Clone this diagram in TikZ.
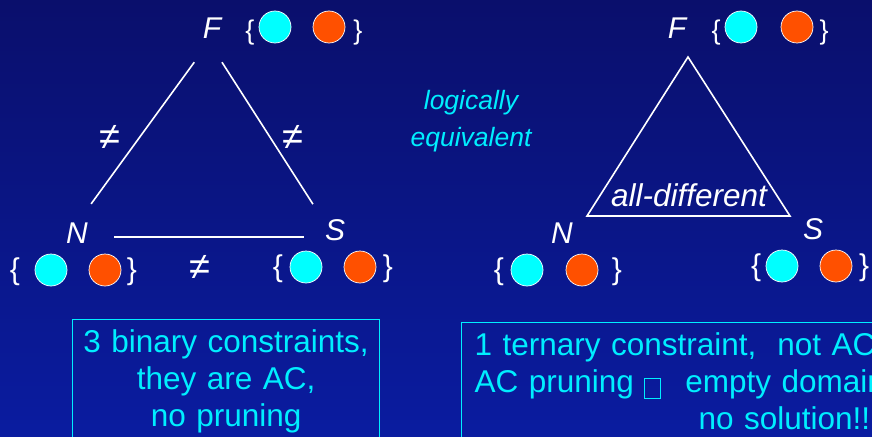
\documentclass[tikz,border=0pt]{standalone}
\usepackage{fontspec}
\setmainfont{Liberation Sans}
\usetikzlibrary{positioning}
\definecolor{navyTop}{HTML}{0A0F6C}
\definecolor{navyBot}{HTML}{0A1CA0}
\definecolor{aqua}{HTML}{00EEFF}
\definecolor{ballC}{HTML}{00FFFF}
\definecolor{ballO}{HTML}{FF5000}

\begin{document}
\begin{tikzpicture}[x=1pt, y=-1pt,
  var/.style={font=\fontsize{30}{36}\selectfont\itshape, text=white, anchor=base, inner sep=0pt},
  brace/.style={font=\fontsize{27}{30}\selectfont, text=white, anchor=base, inner sep=0pt},
  bigbrace/.style={brace, font=\fontsize{30}{36}\selectfont},
  cball/.style={circle, fill=ballC, draw=white, line width=0.7pt, minimum size=32pt, inner sep=0pt},
  oball/.style={cball, fill=ballO},
  neq/.style={font=\fontsize{38}{40}\selectfont, text=white, inner sep=0pt},
  link/.style={draw=white, line width=1.6pt},
  note/.style={draw=aqua, line width=1.2pt, text=aqua, anchor=north west,
           font=\fontsize{31.5}{37}\selectfont, inner xsep=5pt, inner ysep=10pt},
  lab/.style={font=\fontsize{26.5}{37}\selectfont\itshape, text=aqua, align=center, anchor=north, inner sep=0pt}
]
  \useasboundingbox (0,0) rectangle (872,436);
  \shade[top color=navyTop, bottom color=navyBot] (0,0) rectangle (872,436);
  \clip (0,0) rectangle (872,436);

  % three binary constraints
  \node[var] (F1) at (212,39) {F};
  \node[var] (N1) at (77,243) {N};
  \node[var] (S1) at (335,240) {S};

  \coordinate (tF) at (209,42);
  \coordinate (tN) at (67,237);
  \coordinate (tS) at (334,237);
  \draw[link, shorten <=25pt, shorten >=41pt] (tF) -- (tN);
  \draw[link, shorten <=24pt, shorten >=39pt] (tF) -- (tS);
  \draw[link, shorten <=47pt, shorten >=30pt] (tN) -- (tS);

  \node[neq] (ne1) at (110,137) {≠};
  \node[neq] (ne2) at (293,137) {≠};
  \node[neq] (ne3) at (200,267) {≠};

  \node[brace] (F1l) at (250,40) {\{};
  \node[cball] (F1c) at (275,27) {};
  \node[oball] (F1o) at (329,27) {};
  \node[brace] (F1r) at (358,40) {\}};

  \node[bigbrace] (N1l) at (15,279) {\{};
  \node[cball] (N1c) at (51,270) {};
  \node[oball] (N1o) at (105,270) {};
  \node[bigbrace] (N1r) at (132,279) {\}};

  \node[bigbrace] (S1l) at (278,276) {\{};
  \node[cball] (S1c) at (306,267) {};
  \node[oball] (S1o) at (360,267) {};
  \node[bigbrace] (S1r) at (388,276) {\}};

  \node[lab] (eqv) at (471,90.5) {logically\\equivalent};

  % one ternary constraint
  \node[var] (F2) at (677,39) {F};
  \node[var] (N2) at (562,243) {N};
  \node[var] (S2) at (813,239) {S};

  \coordinate (rF) at (688,57);
  \coordinate (rN) at (587,216);
  \coordinate (rS) at (790,216);
  \draw[link, line join=miter] (rF) -- (rN) -- (rS) -- cycle;
  \node[var, font=\fontsize{31.5}{36}\selectfont\itshape] (alldiff) at (689,206) {all-different};

  \node[brace] (F2l) at (716,40) {\{};
  \node[cball] (F2c) at (741,27) {};
  \node[oball] (F2o) at (797,27) {};
  \node[brace] (F2r) at (824,40) {\}};

  \node[bigbrace] (N2l) at (499,279) {\{};
  \node[cball] (N2c) at (527,270) {};
  \node[oball] (N2o) at (582,270) {};
  \node[bigbrace] (N2r) at (617,279) {\}};

  \node[bigbrace] (S2l) at (756,275) {\{};
  \node[cball] (S2c) at (782,266) {};
  \node[oball] (S2o) at (836,266) {};
  \node[bigbrace] (S2r) at (864,275) {\}};

  % verdicts
  \node[note, align=center, text width=297pt] (binary) at (72,319)
    {3 binary constraints,\\they are AC,\\no pruning};
  \node[note, align=left, text width=560pt, inner xsep=13pt] (ternary) at (461,322)
    {1 ternary constraint,~ not AC\\AC pruning \raisebox{-6pt}{\fboxsep=0pt\fboxrule=1pt\fbox{\rule{0pt}{19pt}\hspace{15pt}}}\hspace{24pt}empty domain\\\hspace*{224pt}no solution!!};
\end{tikzpicture}
\end{document}
